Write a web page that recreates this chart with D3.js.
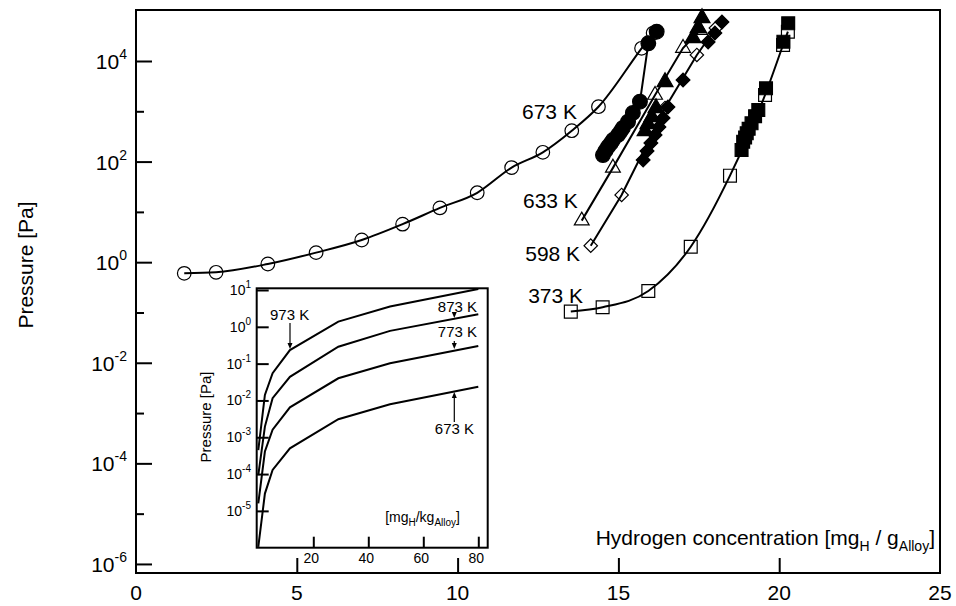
<!DOCTYPE html>
<html>
<head>
<meta charset="utf-8">
<script src="https://cdnjs.cloudflare.com/ajax/libs/d3/7.8.5/d3.min.js"></script>
<style>
  body { margin: 0; background: #fff; }
  svg { font-family: "Liberation Sans", Arial, Helvetica, sans-serif; }
</style>
</head>
<body>
<svg id="chart" width="956" height="606"></svg>
<script>
// main plot: [hydrogen concentration mg_H/g_Alloy, pressure Pa]
var open673   = [[1.5,0.60],[2.49,0.63],[4.1,0.92],[5.6,1.55],[7.02,2.76],[8.29,5.7],[9.45,12],[10.61,24],[11.68,76],[12.65,153],[13.55,411],[14.38,1233],[15.72,17900],[16.08,36000]];
var filled673 = [[14.52,135],[14.6,165],[14.68,198],[14.76,230],[14.83,268],[14.99,338],[15.07,400],[15.14,466],[15.30,621],[15.45,925],[15.67,1553],[15.93,22500],[16.19,38300]];
var open633   = [[13.86,6.7],[14.83,75],[16.14,2110],[17.01,18100],[17.54,41300]];
var filled633 = [[15.83,405],[15.92,559],[16.04,771],[16.17,1165],[16.45,3830],[17.32,28600],[17.48,45300],[17.60,71600]];
var open598   = [[14.14,2.13],[15.10,21.7],[16.45,1165],[17.44,13200],[18.03,45300]];
var filled598 = [[15.77,108],[15.89,163],[16.01,234],[16.14,338],[16.26,487],[16.39,736],[16.54,1217],[17.01,4190],[17.79,23900],[18.0,36000],[18.22,59600]];
var open373   = [[13.52,0.104],[14.51,0.127],[15.93,0.267],[17.25,2.03],[18.47,52.5],[19.56,2110],[20.12,20800],[20.27,38300]];
var filled373 = [[18.83,170],[18.88,249],[18.94,300],[18.99,365],[19.05,450],[19.14,577],[19.25,800],[19.35,1063],[19.59,2860],[20.13,24200],[20.28,56100]];

var xTicks = [0, 5, 10, 15, 20, 25];
var yMajor = [-6, -4, -2, 0, 2, 4];
var yMinor = [-5, -3, -1, 1, 3];

// label anchor = right end of text, on its baseline
var tempLabels = [
  {text: "673 K", x: 13.71, p: 700},
  {text: "633 K", x: 13.74, p: 12},
  {text: "598 K", x: 13.81, p: 1.06},
  {text: "373 K", x: 13.9, p: 0.155}
];

// inset: [mg_H/kg_Alloy] vs pressure
var insetConc = [0, 2.4, 5.2, 11.5, 29.1, 47.9, 80];
var inset973 = [4.5e-4, 0.0141, 0.055, 0.234, 1.38, 3.55, 10.7];
var inset873 = [9.3e-5, 1.95e-3, 0.0115, 0.0437, 0.288, 0.776, 2.19];
var inset773 = [1.6e-5, 4.1e-4, 1.6e-3, 6.5e-3, 0.040, 0.102, 0.30];
var inset673 = [1.05e-6, 2.95e-5, 1.29e-4, 5.0e-4, 3.1e-3, 7.9e-3, 0.0234];
var insetXTicks = [20, 40, 60, 80];
var insetYTicks = [-5, -4, -3, -2, -1, 0, 1];

var svg = d3.select("#chart");

var x = d3.scaleLinear().domain([0, 25]).range([136, 940]);
var y = d3.scaleLog().domain([Math.pow(10, -6.18), Math.pow(10, 5.014)]).range([573, 10]);

// ticks (inward)
svg.append("g")
    .attr("transform", "translate(136,0)")
    .call(d3.axisLeft(y).tickValues(yMajor.map(function(e) { return Math.pow(10, e); })).tickSize(-16).tickFormat(""))
    .call(function(g) { g.select(".domain").remove(); g.selectAll("line").attr("stroke-width", 2); });
svg.append("g")
    .attr("transform", "translate(136,0)")
    .call(d3.axisLeft(y).tickValues(yMinor.map(function(e) { return Math.pow(10, e); })).tickSize(-8).tickFormat(""))
    .call(function(g) { g.select(".domain").remove(); g.selectAll("line").attr("stroke-width", 2); });
svg.append("g")
    .attr("transform", "translate(0,573)")
    .call(d3.axisBottom(x).tickValues([5, 10, 15, 20]).tickSize(-15).tickFormat(""))
    .call(function(g) { g.select(".domain").remove(); g.selectAll("line").attr("stroke-width", 2); });

// frame
svg.append("rect")
    .attr("x", 136).attr("y", 10).attr("width", 804).attr("height", 563)
    .attr("fill", "none").attr("stroke", "#000").attr("stroke-width", 2);

// tick labels
svg.selectAll(".xlab")
    .data(xTicks)
  .enter().append("text")
    .attr("class", "xlab")
    .attr("x", function(d) { return x(d); })
    .attr("y", 600)
    .attr("text-anchor", "middle")
    .attr("font-size", 21)
    .text(function(d) { return d; });

var ylab = svg.selectAll(".ylab")
    .data(yMajor)
  .enter().append("text")
    .attr("class", "ylab")
    .attr("x", 127)
    .attr("y", function(d) { return y(Math.pow(10, d)) + 8; })
    .attr("text-anchor", "end")
    .attr("font-size", 21);
ylab.append("tspan").text("10");
ylab.append("tspan").attr("dy", -10).attr("font-size", 14).text(function(d) { return d; });

svg.append("text")
    .attr("transform", "translate(33,265) rotate(-90)")
    .attr("text-anchor", "middle")
    .attr("font-size", 21)
    .text("Pressure [Pa]");

var xt = svg.append("text")
    .attr("x", 935).attr("y", 545)
    .attr("text-anchor", "end")
    .attr("font-size", 21);
xt.append("tspan").text("Hydrogen concentration [mg");
xt.append("tspan").attr("dy", 6).attr("font-size", 14).text("H");
xt.append("tspan").attr("dy", -6).text(" / g");
xt.append("tspan").attr("dy", 6).attr("font-size", 14).text("Alloy");
xt.append("tspan").attr("dy", -6).text("]");

// lines
var line = d3.line()
    .x(function(d) { return x(d[0]); })
    .y(function(d) { return y(d[1]); });
var smooth = d3.line()
    .x(function(d) { return x(d[0]); })
    .y(function(d) { return y(d[1]); })
    .curve(d3.curveMonotoneX);

[[open673, smooth], [filled673, line], [open633, line], [open598, line], [open373, smooth]].forEach(function(s) {
  svg.append("path")
      .datum(s[0])
      .attr("d", s[1])
      .attr("fill", "none")
      .attr("stroke", "#000")
      .attr("stroke-width", 2);
});

// markers
function markers(data, type, size, filled, rot) {
  svg.append("g").selectAll("path")
      .data(data)
    .enter().append("path")
      .attr("d", d3.symbol().type(type).size(size))
      .attr("transform", function(d) { return "translate(" + x(d[0]) + "," + y(d[1]) + ")" + (rot ? " rotate(45)" : ""); })
      .attr("fill", filled ? "#000" : "none")
      .attr("stroke", "#000")
      .attr("stroke-width", 1.2);
}
markers(open673, d3.symbolCircle, 145, false);
markers(open633, d3.symbolTriangle, 95, false);
markers(open598, d3.symbolSquare, 90, false, true);
markers(open373, d3.symbolSquare, 165, false);
markers(filled673, d3.symbolCircle, 170, true);
markers(filled633, d3.symbolTriangle, 110, true);
markers(filled598, d3.symbolSquare, 95, true, true);
markers(filled373, d3.symbolSquare, 165, true);

svg.selectAll(".tlab")
    .data(tempLabels)
  .enter().append("text")
    .attr("class", "tlab")
    .attr("x", function(d) { return x(d.x); })
    .attr("y", function(d) { return y(d.p); })
    .attr("text-anchor", "end")
    .attr("font-size", 21)
    .text(function(d) { return d.text; });

// ---------------- inset ----------------
var ix = d3.scaleLinear().domain([0, 80]).range([258.3, 478.3]);
var iy = d3.scaleLog().domain([1e-6, 10]).range([547.7, 290]);

svg.append("rect")
    .attr("x", 256.7).attr("y", 288.3).attr("width", 231).attr("height", 259.4)
    .attr("fill", "#fff");

svg.append("g")
    .attr("transform", "translate(256.7,0)")
    .call(d3.axisLeft(iy).tickValues(insetYTicks.map(function(e) { return Math.pow(10, e); })).tickSize(-12).tickFormat(""))
    .call(function(g) { g.select(".domain").remove(); g.selectAll("line").attr("stroke-width", 2); });
svg.append("g")
    .attr("transform", "translate(0,547.7)")
    .call(d3.axisBottom(ix).tickValues(insetXTicks).tickSize(-11).tickFormat(""))
    .call(function(g) { g.select(".domain").remove(); g.selectAll("line").attr("stroke-width", 2); });

svg.append("rect")
    .attr("x", 256.7).attr("y", 288.3).attr("width", 231).attr("height", 259.4)
    .attr("fill", "none").attr("stroke", "#000").attr("stroke-width", 2);

var iylab = svg.selectAll(".iylab")
    .data(insetYTicks)
  .enter().append("text")
    .attr("class", "iylab")
    .attr("x", 251)
    .attr("y", function(d) { return iy(Math.pow(10, d)) + 5; })
    .attr("text-anchor", "end")
    .attr("font-size", 14);
iylab.append("tspan").text("10");
iylab.append("tspan").attr("dy", -7).attr("font-size", 10).text(function(d) { return d; });

svg.selectAll(".ixlab")
    .data(insetXTicks)
  .enter().append("text")
    .attr("class", "ixlab")
    .attr("x", function(d) { return ix(d) - 2; })
    .attr("y", 563)
    .attr("text-anchor", "middle")
    .attr("font-size", 14)
    .text(function(d) { return d; });

svg.append("text")
    .attr("transform", "translate(211,417) rotate(-90)")
    .attr("text-anchor", "middle")
    .attr("font-size", 15)
    .text("Pressure [Pa]");

var ixt = svg.append("text")
    .attr("x", 460).attr("y", 522)
    .attr("text-anchor", "end")
    .attr("font-size", 14);
ixt.append("tspan").text("[mg");
ixt.append("tspan").attr("dy", 4).attr("font-size", 10).text("H");
ixt.append("tspan").attr("dy", -4).text("/kg");
ixt.append("tspan").attr("dy", 4).attr("font-size", 10).text("Alloy");
ixt.append("tspan").attr("dy", -4).text("]");

var iline = d3.line()
    .x(function(d, i) { return ix(insetConc[i]); })
    .y(function(d) { return iy(d); });
[inset973, inset873, inset773, inset673].forEach(function(s) {
  svg.append("path")
      .datum(s)
      .attr("d", iline)
      .attr("fill", "none")
      .attr("stroke", "#000")
      .attr("stroke-width", 2);
});

// inset labels with arrows
var insetLabels = [
  {text: "973 K", x: 270, y: 320, anchor: "start"},
  {text: "873 K", x: 477, y: 312, anchor: "end"},
  {text: "773 K", x: 477, y: 337, anchor: "end"},
  {text: "673 K", x: 474, y: 434, anchor: "end"}
];
svg.selectAll(".ilab")
    .data(insetLabels)
  .enter().append("text")
    .attr("class", "ilab")
    .attr("x", function(d) { return d.x; })
    .attr("y", function(d) { return d.y; })
    .attr("text-anchor", function(d) { return d.anchor; })
    .attr("font-size", 15)
    .text(function(d) { return d.text; });

var arrows = [
  {x: 290, y1: 323, y2: 349},
  {x: 454.3, y1: 313, y2: 318},
  {x: 454.3, y1: 341, y2: 349},
  {x: 454.3, y1: 422, y2: 392}
];
arrows.forEach(function(a) {
  var dir = a.y2 > a.y1 ? 1 : -1;
  svg.append("line")
      .attr("x1", a.x).attr("x2", a.x)
      .attr("y1", a.y1).attr("y2", a.y2 - dir * 5)
      .attr("stroke", "#000").attr("stroke-width", 1.2);
  svg.append("path")
      .attr("d", "M" + (a.x - 2.5) + "," + (a.y2 - dir * 6) + "L" + (a.x + 2.5) + "," + (a.y2 - dir * 6) + "L" + a.x + "," + a.y2 + "Z")
      .attr("fill", "#000");
});
</script>
</body>
</html>
